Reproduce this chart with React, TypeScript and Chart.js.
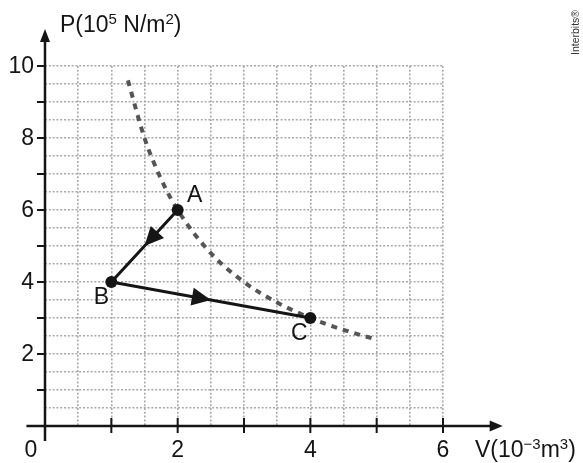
import React, { useEffect, useRef } from "react";
import { Chart, registerables } from "chart.js";

Chart.register(...registerables);

// ---- data ----
const curveV = [1.25, 1.5, 1.75, 2, 2.5, 3, 3.5, 4, 4.5, 5];
const curveP = [9.6, 8.0, 6.86, 6.0, 4.8, 4.0, 3.43, 3.0, 2.67, 2.4];
const pathNames = ["A", "B", "C"];
const pathV = [2, 1, 4];
const pathP = [6, 4, 3];
const xTickValues = [1, 2, 3, 4, 5, 6];
const xLabelValues = [0, 2, 4, 6];
const xLabelTexts = ["0", "2", "4", "6"];
const yTickValues = [1, 2, 3, 4, 5, 6, 7, 8, 9, 10];
const yLabelValues = [2, 4, 6, 8, 10];
const yLabelTexts = ["2", "4", "6", "8", "10"];
const xTitle = [
  { t: "V(10" },
  { t: "\u22123", sup: true },
  { t: "m" },
  { t: "3", sup: true },
  { t: ")" },
];
const yTitle = [
  { t: "P(10" },
  { t: "5", sup: true },
  { t: " N/m" },
  { t: "2", sup: true },
  { t: ")" },
];
const credit = "Interbits\u00AE";

// axis extents in data units (beyond the grid)
const xAxisFrom = -0.28;
const xAxisTo = 6.9;
const yAxisFrom = -0.42;
const yAxisTo = 11.03;

const FONT = '"Liberation Sans", Arial, Helvetica, sans-serif';
const INK = "#151515";
const MAIN = 23;

type Part = { t: string; sup?: boolean };

function drawRich(ctx: CanvasRenderingContext2D, parts: Part[], x: number, y: number) {
  let cx = x;
  for (const p of parts) {
    if (p.sup) {
      ctx.font = `15px ${FONT}`;
      ctx.fillText(p.t, cx, y - 8);
    } else {
      ctx.font = `${MAIN}px ${FONT}`;
      ctx.fillText(p.t, cx, y);
    }
    cx += ctx.measureText(p.t).width;
  }
}

function arrowHead(
  ctx: CanvasRenderingContext2D,
  tx: number,
  ty: number,
  ang: number,
  len: number,
  hw: number
) {
  const bx = tx - Math.cos(ang) * len;
  const by = ty - Math.sin(ang) * len;
  const nx = -Math.sin(ang);
  const ny = Math.cos(ang);
  ctx.beginPath();
  ctx.moveTo(tx, ty);
  ctx.lineTo(bx + nx * hw, by + ny * hw);
  ctx.lineTo(bx - nx * hw, by - ny * hw);
  ctx.closePath();
  ctx.fill();
}

const decorPlugin = {
  id: "decor",
  afterDatasetsDraw(chart: any) {
    const ctx: CanvasRenderingContext2D = chart.ctx;
    const xs = chart.scales.x;
    const ys = chart.scales.y;
    ctx.save();
    ctx.fillStyle = INK;
    for (let i = 0; i < pathV.length - 1; i++) {
      const x1 = xs.getPixelForValue(pathV[i]);
      const y1 = ys.getPixelForValue(pathP[i]);
      const x2 = xs.getPixelForValue(pathV[i + 1]);
      const y2 = ys.getPixelForValue(pathP[i + 1]);
      const ang = Math.atan2(y2 - y1, x2 - x1);
      arrowHead(ctx, (x1 + x2) / 2, (y1 + y2) / 2, ang, 19, 9);
    }
    const offs = [
      [17, -14],
      [-10, 16],
      [-11, 16],
    ];
    ctx.font = `${MAIN}px ${FONT}`;
    ctx.textAlign = "center";
    ctx.textBaseline = "middle";
    pathNames.forEach((n, i) => {
      ctx.fillText(n, xs.getPixelForValue(pathV[i]) + offs[i][0], ys.getPixelForValue(pathP[i]) + offs[i][1]);
    });
    ctx.restore();
  },
  afterDraw(chart: any) {
    const ctx: CanvasRenderingContext2D = chart.ctx;
    const xs = chart.scales.x;
    const ys = chart.scales.y;
    const x0 = xs.getPixelForValue(0);
    const y0 = ys.getPixelForValue(0);
    ctx.save();
    ctx.strokeStyle = INK;
    ctx.fillStyle = INK;
    ctx.lineWidth = 2.5;
    const xEnd = xs.getPixelForValue(xAxisTo);
    ctx.beginPath();
    ctx.moveTo(xs.getPixelForValue(xAxisFrom), y0);
    ctx.lineTo(xEnd - 10, y0);
    ctx.stroke();
    arrowHead(ctx, xEnd, y0, 0, 13, 5.5);
    const yEnd = ys.getPixelForValue(yAxisTo);
    ctx.beginPath();
    ctx.moveTo(x0, ys.getPixelForValue(yAxisFrom));
    ctx.lineTo(x0, yEnd + 10);
    ctx.stroke();
    arrowHead(ctx, x0, yEnd, -Math.PI / 2, 13, 5);
    ctx.lineWidth = 2;
    for (const v of xTickValues) {
      const px = xs.getPixelForValue(v);
      ctx.beginPath();
      ctx.moveTo(px, y0 - 8);
      ctx.lineTo(px, y0 + 7);
      ctx.stroke();
    }
    for (const v of yTickValues) {
      const py = ys.getPixelForValue(v);
      ctx.beginPath();
      ctx.moveTo(x0 - 8, py);
      ctx.lineTo(x0, py);
      ctx.stroke();
    }
    ctx.font = `${MAIN}px ${FONT}`;
    ctx.textAlign = "center";
    ctx.textBaseline = "alphabetic";
    xLabelValues.forEach((v, i) => {
      const px = v === 0 ? x0 - 14 : xs.getPixelForValue(v);
      ctx.fillText(xLabelTexts[i], px, y0 + 31);
    });
    ctx.textAlign = "right";
    ctx.textBaseline = "middle";
    yLabelValues.forEach((v, i) => {
      ctx.fillText(yLabelTexts[i], x0 - 11, ys.getPixelForValue(v) + 1);
    });
    ctx.textAlign = "left";
    ctx.textBaseline = "alphabetic";
    drawRich(ctx, xTitle, xs.getPixelForValue(6) + 32, y0 + 31);
    drawRich(ctx, yTitle, x0 + 15, ys.getPixelForValue(10) - 34);
    ctx.save();
    ctx.fillStyle = "#333";
    ctx.font = `10.5px ${FONT}`;
    ctx.translate(576, 55);
    ctx.rotate(-Math.PI / 2);
    ctx.textAlign = "left";
    ctx.textBaseline = "middle";
    ctx.fillText(credit, 0, 0);
    ctx.restore();
    ctx.restore();
  },
};

export default function App() {
  const ref = useRef<HTMLCanvasElement | null>(null);
  useEffect(() => {
    if (!ref.current) return;
    const gridOpts = {
      color: "#a9a9a9",
      lineWidth: 1.6,
      drawTicks: false,
    };
    const chart = new Chart(ref.current, {
      type: "line",
      data: {
        datasets: [
          {
            label: "path",
            data: pathV.map((v, i) => ({ x: v, y: pathP[i] })),
            borderColor: INK,
            backgroundColor: INK,
            borderWidth: 3,
            pointRadius: 6,
            pointBackgroundColor: INK,
            pointBorderWidth: 0,
            tension: 0,
            order: 0,
          },
          {
            label: "isotherm",
            data: curveV.map((v, i) => ({ x: v, y: curveP[i] })),
            borderColor: "#555555",
            borderWidth: 4,
            borderDash: [6, 6],
            pointRadius: 0,
            cubicInterpolationMode: "monotone",
            order: 1,
          },
        ],
      },
      options: {
        responsive: false,
        animation: false,
        devicePixelRatio: 1,
        layout: { padding: { left: 45, right: 140, top: 66, bottom: 37 } },
        plugins: { legend: { display: false }, tooltip: { enabled: false } },
        scales: {
          x: {
            type: "linear",
            min: 0,
            max: 6,
            ticks: { display: false, stepSize: 0.5 },
            grid: { ...gridOpts },
            border: { display: false, dash: [2, 1.8] },
            afterFit: (s: any) => {
              s.height = 0;
            },
          },
          y: {
            type: "linear",
            min: 0,
            max: 10,
            ticks: { display: false, stepSize: 0.5 },
            grid: { ...gridOpts },
            border: { display: false, dash: [2, 1.8] },
            afterFit: (s: any) => {
              s.width = 0;
            },
          },
        },
      } as any,
      plugins: [decorPlugin],
    });
    return () => chart.destroy();
  }, []);
  return (
    <div style={{ position: "absolute", left: 0, top: 0, width: 583, height: 463, background: "#fff" }}>
      <canvas ref={ref} width={583} height={463} style={{ display: "block" }} />
    </div>
  );
}
